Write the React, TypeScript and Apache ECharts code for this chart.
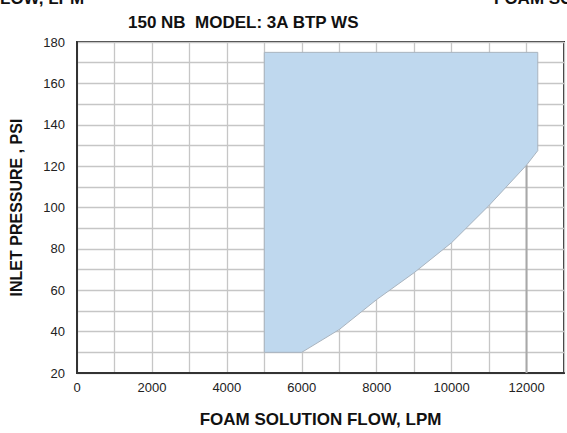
import React, { useEffect, useRef } from "react";
import * as echarts from "echarts";

// Operating envelope boundary (flow LPM, inlet pressure PSI)
const envelopeFlow = [5000, 12300, 12300, 12000, 11000, 10000, 9000, 8000, 7000, 6000, 5000];
const envelopePressure = [175, 175, 127.5, 120.5, 101, 83, 68.5, 55.5, 41, 30, 30];

const xTickLabels = ["0", "2000", "4000", "6000", "8000", "10000", "12000"];
const yTickLabels = ["20", "40", "60", "80", "100", "120", "140", "160", "180"];

const refLineFlow = [12000, 12000];
const refLinePressure = [20, 120.5];

const FONT = "'Liberation Sans', Arial, sans-serif";

export default function App() {
  const ref = useRef<HTMLDivElement>(null);
  useEffect(() => {
    document.body.style.margin = "0";
    const chart = echarts.init(ref.current!, null, { renderer: "svg" });
    chart.setOption({
      animation: false,
      backgroundColor: "#ffffff",
      title: {
        text: "150 NB  MODEL: 3A BTP WS",
        left: 128,
        top: 14,
        padding: 0,
        textStyle: { fontFamily: FONT, fontSize: 17, fontWeight: "bold", color: "#111" },
      },
      graphic: [
        {
          type: "text",
          left: 0,
          top: -10,
          style: { text: "LOW, LPM", font: `bold 17px ${FONT}`, fill: "#111" },
        },
        {
          type: "text",
          left: 494,
          top: -10,
          style: { text: "FOAM SO", font: `bold 17px ${FONT}`, fill: "#111" },
        },
      ],
      grid: {
        left: 76,
        top: 42,
        width: 503,
        height: 336,
        show: true,
        borderColor: "#333",
        borderWidth: 2,
        backgroundColor: "#fff",
      },
      xAxis: {
        type: "value",
        min: 0,
        max: 13000,
        interval: 1000,
        name: "FOAM SOLUTION FLOW, LPM",
        nameLocation: "middle",
        nameGap: 38,
        nameTextStyle: { fontFamily: FONT, fontSize: 17, fontWeight: "bold", color: "#111" },
        axisLine: { show: true, lineStyle: { color: "#333", width: 2 } },
        axisTick: { show: false },
        axisLabel: {
          fontFamily: FONT,
          fontSize: 13,
          color: "#222",
          margin: 8,
          formatter: (v: number) => (xTickLabels.includes(String(v)) ? String(v) : ""),
        },
        splitLine: { show: true, lineStyle: { color: "#c6c6c6", width: 1.3 } },
      },
      yAxis: {
        type: "value",
        min: 20,
        max: 180,
        interval: 10,
        name: "INLET PRESSURE , PSI",
        nameLocation: "middle",
        nameGap: 53,
        nameTextStyle: { fontFamily: FONT, fontSize: 16, fontWeight: "bold", color: "#111" },
        axisLine: { show: true, lineStyle: { color: "#333", width: 2 } },
        axisTick: { show: false },
        axisLabel: {
          fontFamily: FONT,
          fontSize: 13,
          color: "#222",
          margin: 12,
          formatter: (v: number) => (yTickLabels.includes(String(v)) ? String(v) : ""),
        },
        splitLine: { show: true, lineStyle: { color: "#c6c6c6", width: 1.3 } },
      },
      series: [
        {
          type: "line",
          data: refLineFlow.map((f, i) => [f, refLinePressure[i]]),
          symbol: "none",
          lineStyle: { color: "#a8a8a8", width: 2 },
          z: 1,
          silent: true,
        },
        {
          type: "custom",
          z: 3,
          data: [[envelopeFlow[0], envelopePressure[0]]],
          renderItem: (_params: any, api: any) => {
            const pts = envelopeFlow.map((f, i) => api.coord([f, envelopePressure[i]]));
            return {
              type: "polygon",
              shape: { points: pts },
              style: { fill: "#bfd8ee", stroke: "#a9b4bf", lineWidth: 1 },
            };
          },
        },
      ],
    });
    return () => chart.dispose();
  }, []);
  return (
    <div
      ref={ref}
      style={{ width: 567, height: 433, position: "absolute", left: 0, top: 0 }}
    />
  );
}
